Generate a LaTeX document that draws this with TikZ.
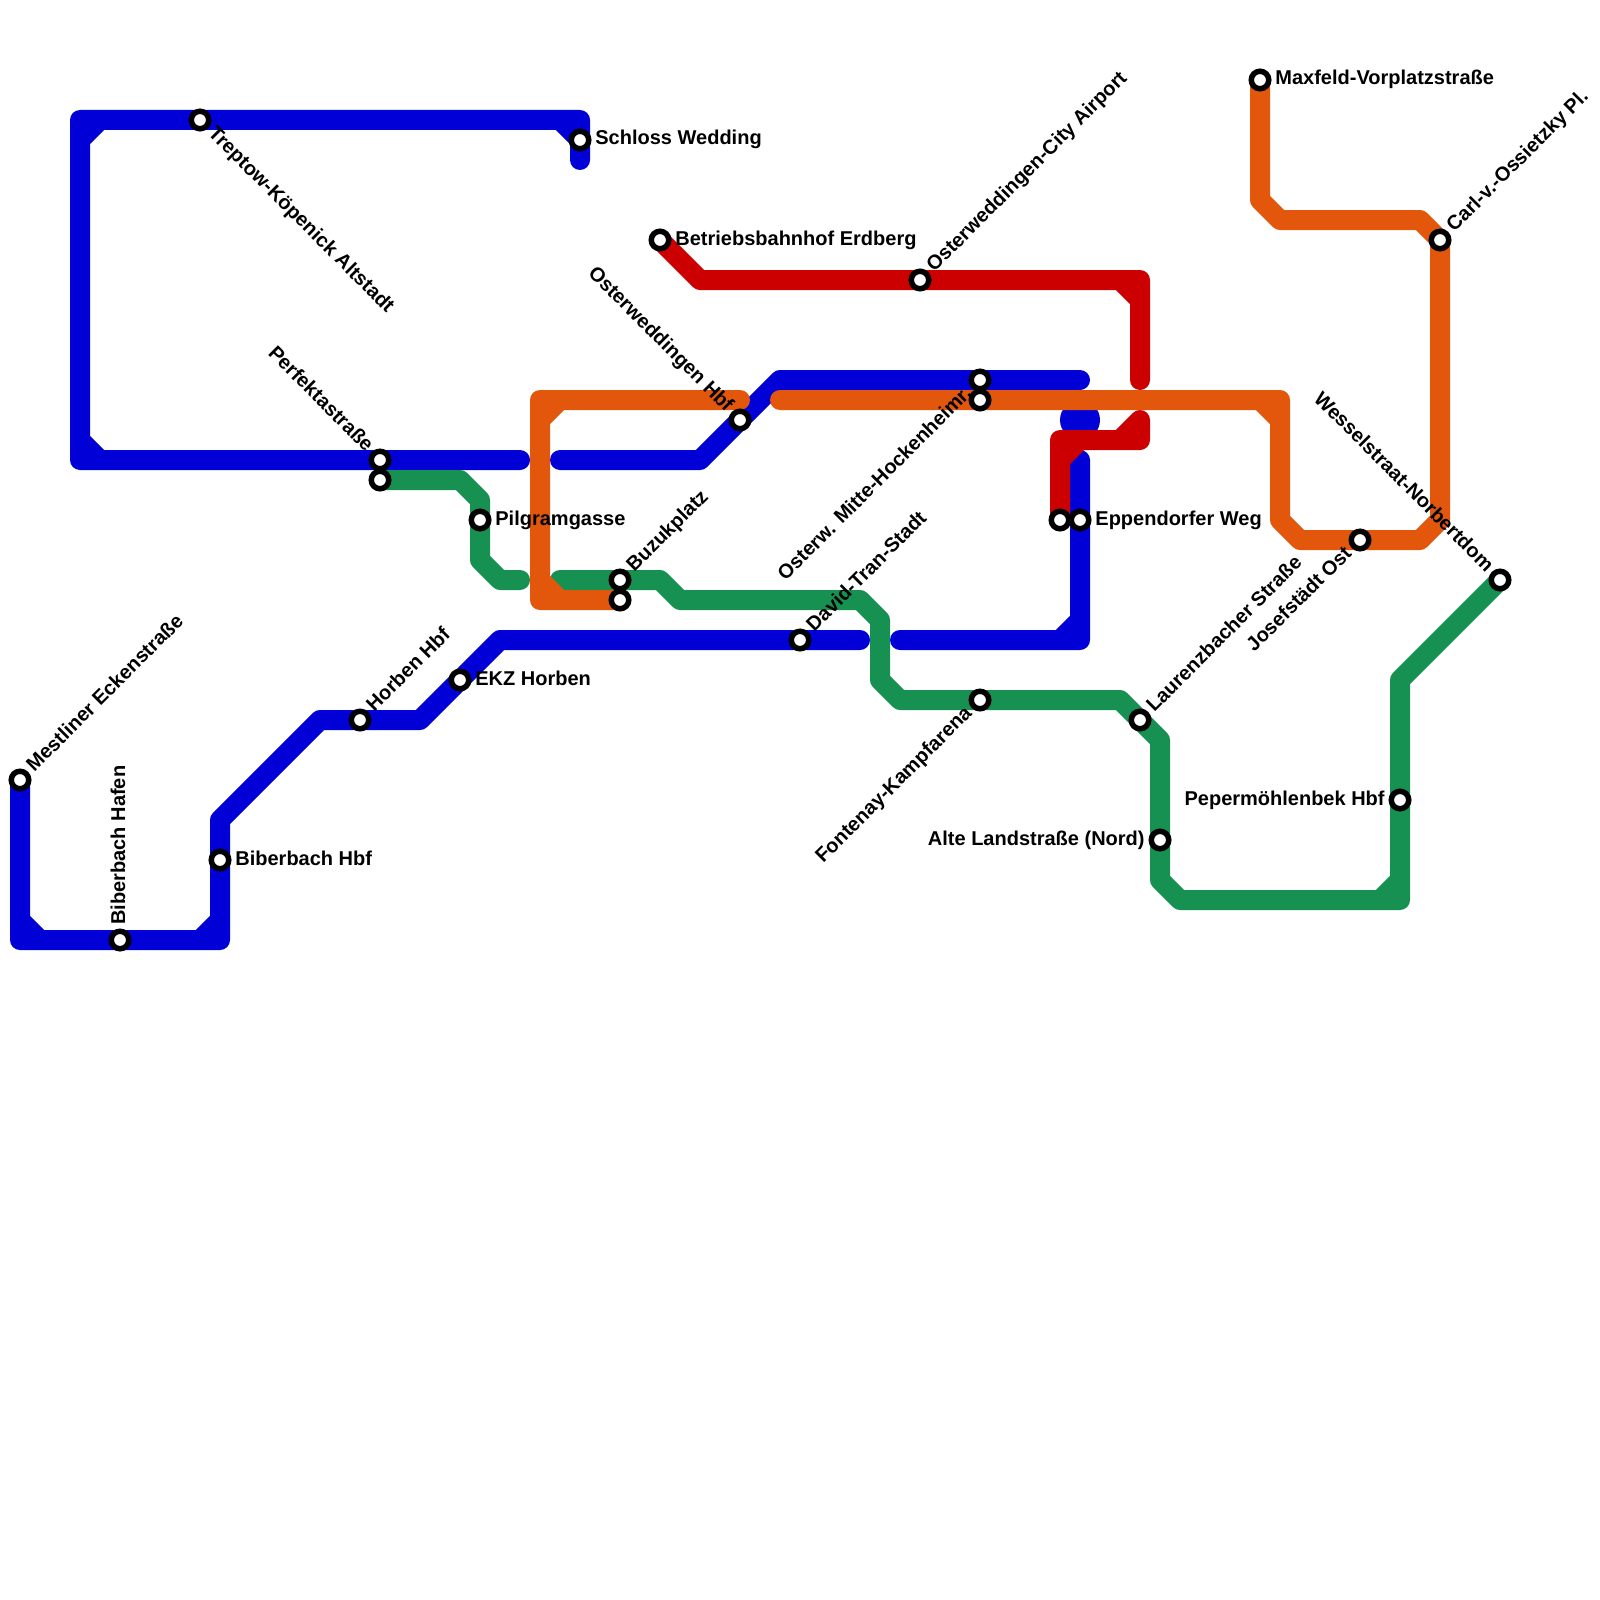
\documentclass[tikz,border=0pt]{standalone}
\usepackage{fontspec}
\setmainfont{Liberation Sans}
\usepackage{xcolor}
\usetikzlibrary{calc}

\definecolor{metroblue}{HTML}{0000D7}
\definecolor{metrogreen}{HTML}{169151}
\definecolor{metrored}{HTML}{CC0000}
\definecolor{metroorange}{HTML}{E2570C}

\pgfdeclarelayer{lines}
\pgfsetlayers{lines,main}

% label behind or ahead of a station, along the given angle
\newcommand{\labelafter}[3]{\path (#1.center) ++(#2:7.5pt) ++(#2-90:2.5pt) node[stationtext, rotate=#2, anchor=base west] (#1-label) {#3};}
\newcommand{\labelbefore}[3]{\path (#1.center) ++(#2:-7.5pt) ++(#2-90:2.5pt) node[stationtext, rotate=#2, anchor=base east] (#1-label) {#3};}

\begin{document}
\begin{tikzpicture}[
  x=0.5pt, y=-0.5pt,
  station/.style={circle, draw=black, fill=white, line width=2.75pt, minimum size=8.75pt, inner sep=0pt, outer sep=0pt},
  stationtext/.style={font=\fontsize{10pt}{12pt}\selectfont\bfseries, inner sep=0pt},
  metroline/.style={line width=10pt, line cap=round, line join=round},
  blueline/.style={metroline, draw=metroblue},
  greenline/.style={metroline, draw=metrogreen},
  redline/.style={metroline, draw=metrored},
  orangeline/.style={metroline, draw=metroorange}
]
\useasboundingbox (0,0) rectangle (1600,1600);

% blue stations
\node[station] (mestliner) at (20,780) {};
\node[station] (hafen) at (120,940) {};
\node[station] (biberbach) at (220,860) {};
\node[station] (horben) at (360,720) {};
\node[station] (ekz) at (460,680) {};
\node[station] (david) at (800,640) {};
\node[station] (eppendorf) at (1080,520) {};
\node[station] (perfekta) at (380,460) {};
\node[station] (treptow) at (200,120) {};
\node[station] (schloss) at (580,140) {};
\node[station] (hbf) at (740,420) {};
\node[station] (mitte) at (980,380) {};
% green stations
\node[station] (perfektb) at (380,480) {};
\node[station] (pilgram) at (480,520) {};
\node[station] (buzuk) at (620,580) {};
\node[station] (fontenay) at (980,700) {};
\node[station] (laurenz) at (1140,720) {};
\node[station] (alte) at (1160,840) {};
\node[station] (peper) at (1400,800) {};
\node[station] (wessel) at (1500,580) {};
% red stations
\node[station] (betrieb) at (660,240) {};
\node[station] (airport) at (920,280) {};
\node[station] (eppenred) at (1060,520) {};
% orange stations
\node[station] (maxfeld) at (1260,80) {};
\node[station] (carl) at (1440,240) {};
\node[station] (josef) at (1360,540) {};
\node[station] (mitteb) at (980,400) {};
\node[station] (buzukb) at (620,600) {};

\begin{pgfonlayer}{lines}
% blue
\draw[blueline] (mestliner.center) -- (20,940) -- (220,940) -- (220,820) -- (320,720) -- (420,720) -- (500,640) -- (860,640)
  (20,920) -- (40,940) (200,940) -- (220,920);
\draw[blueline] (900,640) -- (1080,640) -- (1080,460) (1060,640) -- (1080,620);
\draw[blueline] (520,460) -- (80,460) -- (80,120) -- (580,120) -- (580,160)
  (80,440) -- (100,460) (80,140) -- (100,120) (560,120) -- (580,140);
\draw[blueline] (560,460) -- (700,460) -- (780,380) -- (1080,380);
\fill[metroblue] (1080,420) circle[radius=20];
% green
\draw[greenline] (perfektb.center) -- (460,480) -- (480,500) -- (480,560) -- (500,580) -- (520,580);
\draw[greenline] (560,580) -- (660,580) -- (680,600) -- (860,600) -- (880,620) -- (880,680) -- (900,700) -- (1120,700)
  -- (1160,740) -- (1160,880) -- (1180,900) -- (1400,900) -- (1400,680) -- (wessel.center)
  (1380,900) -- (1400,880);
% red
\draw[redline] (betrieb.center) -- (700,280) -- (1140,280) -- (1140,380) (1120,280) -- (1140,300);
\draw[redline] (1140,420) -- (1140,440) -- (1060,440) -- (eppenred.center)
  (1120,440) -- (1140,420) (1060,460) -- (1080,440);
% orange
\draw[orangeline] (maxfeld.center) -- (1260,200) -- (1280,220) -- (1420,220) -- (1440,240) -- (1440,520) -- (1420,540)
  -- (1300,540) -- (1280,520) -- (1280,400) -- (780,400) (1260,400) -- (1280,420);
\draw[orangeline] (740,400) -- (540,400) -- (540,600) -- (buzukb.center) (540,420) -- (560,400) (540,580) -- (560,600);

% labels
\labelafter{mestliner}{45}{Mestliner Eckenstraße}
\labelafter{hafen}{90}{Biberbach Hafen}
\labelafter{biberbach}{0}{Biberbach Hbf}
\labelafter{horben}{45}{Horben Hbf}
\labelafter{ekz}{0}{EKZ Horben}
\labelafter{david}{45}{David-Tran-Stadt}
\labelafter{eppendorf}{0}{Eppendorfer Weg}
\labelbefore{perfekta}{-45}{Perfektastraße}
\labelafter{treptow}{-45}{Treptow-Köpenick Altstadt}
\labelafter{schloss}{0}{Schloss Wedding}
\labelbefore{hbf}{-45}{Osterweddingen Hbf}
\labelbefore{mitte}{45}{Osterw. Mitte-Hockenheimr.}
\labelafter{pilgram}{0}{Pilgramgasse}
\labelafter{buzuk}{45}{Buzukplatz}
\labelbefore{fontenay}{45}{Fontenay-Kampfarena}
\labelafter{laurenz}{45}{Laurenzbacher Straße}
\labelbefore{alte}{0}{Alte Landstraße (Nord)}
\labelbefore{peper}{0}{Pepermöhlenbek Hbf}
\labelbefore{wessel}{-45}{Wesselstraat-Norbertdom}
\labelafter{betrieb}{0}{Betriebsbahnhof Erdberg}
\labelafter{airport}{45}{Osterweddingen-City Airport}
\labelafter{maxfeld}{0}{Maxfeld-Vorplatzstraße}
\labelafter{carl}{45}{Carl-v.-Ossietzky Pl.}
\labelbefore{josef}{45}{Josefstädt Ost}
\end{pgfonlayer}
\end{tikzpicture}
\end{document}
